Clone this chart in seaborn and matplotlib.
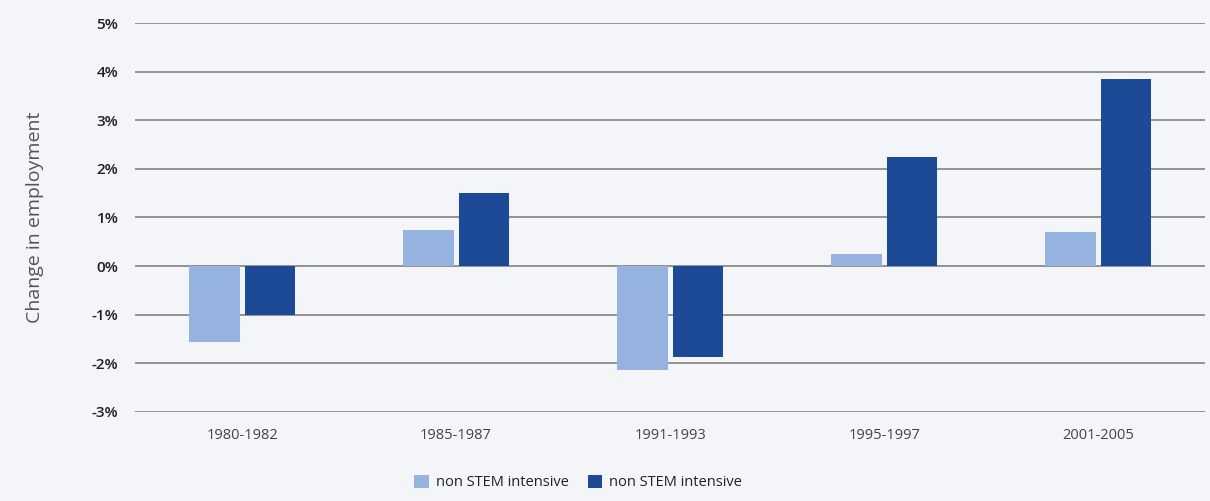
import pandas as pd
import matplotlib.pyplot as plt
import seaborn as sns

# Dados
periods = ["1980-1982", "1985-1987", "1991-1993", "1995-1997", "2001-2005"]
light_vals = [-1.56, 0.74, -2.14, 0.25, 0.70]
dark_vals = [-1.0, 1.50, -1.87, 2.24, 3.85]
series = ["non STEM intensive ", "non STEM intensive"]

df = pd.DataFrame({
    "period": periods * 2,
    "value": light_vals + dark_vals,
    "series": [series[0]] * len(periods) + [series[1]] * len(periods),
})

sns.set_style("white")
plt.rcParams['font.family'] = ['Open Sans', 'DejaVu Sans']
bg = "#f4f5f9"

fig = plt.figure(figsize=(12.1, 5.01), dpi=100, facecolor=bg)
ax = fig.add_axes([0.1116, 0.178, 0.8844, 0.776])
ax.set_facecolor(bg)

sns.barplot(data=df, x="period", y="value", hue="series",
            palette=["#96b3df", "#1c4a96"], saturation=1, width=0.52, gap=0.09,
            linewidth=0, ax=ax, zorder=3)

ax.set_ylim(-3, 5)
ax.set_xlim(-0.5, 4.5)
ax.set_yticks(range(-3, 6))
ax.set_yticklabels([f"{t}%" for t in range(-3, 6)], fontsize=11,
                   fontweight="semibold", color="#222222")
ax.tick_params(axis="y", length=0, pad=12)
ax.tick_params(axis="x", length=0, pad=12, labelsize=10.5, labelcolor="#444444")
ax.grid(axis="y", color="#8a8a8a", linewidth=1.3, zorder=0)
for s in ax.spines.values():
    s.set_visible(False)
ax.set_xlabel("")
ax.set_ylabel("Change in employment", fontsize=14, color="#555555", labelpad=34)

leg = fig.legend(*ax.get_legend_handles_labels(), loc="lower center",
                 bbox_to_anchor=(0.478, -0.005), ncol=2,
                 frameon=False, fontsize=10.5, handlelength=1.0, handleheight=1.0,
                 handletextpad=0.5, columnspacing=1.0)
ax.get_legend().remove()
for t in leg.get_texts():
    t.set_color("#222222")

plt.savefig("out.png", dpi=100, facecolor=bg)
